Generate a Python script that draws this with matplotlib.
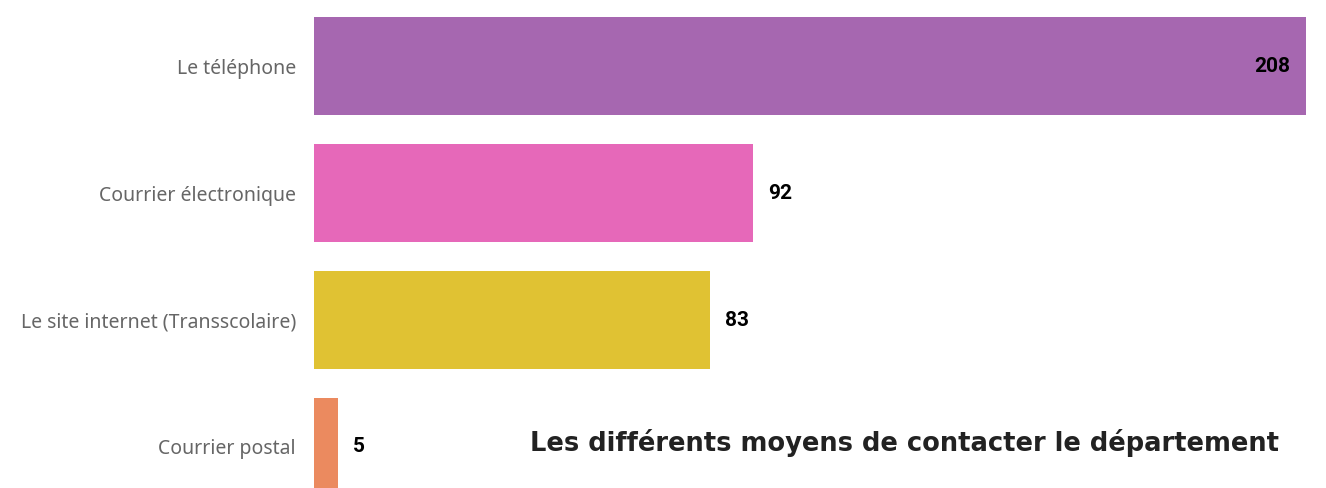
import numpy as np
import matplotlib
matplotlib.use('Agg')
import matplotlib.pyplot as plt

# data
categories = ['Le téléphone', 'Courrier électronique',
              'Le site internet (Transscolaire)', 'Courrier postal']
values = [208, 92, 83, 5]
colors = ['#A667B0', '#E668B9', '#E0C233', '#EB8A5F']
title = 'Les différents moyens de contacter le département'


def main():
    W, H = 1326, 488
    fig = plt.figure(figsize=(W / 100, H / 100), dpi=100)
    ax = fig.add_axes([314 / W, 0, 992 / W, 1])

    y = np.arange(len(categories))
    ax.barh(y, values, height=0.772, color=colors)
    ax.set_xlim(0, max(values))
    ax.set_ylim(3.323, -0.520)

    for yi, v in zip(y, values):
        if v == max(values):
            ax.annotate(str(v), (v, yi), xytext=(-16, 0), textcoords='offset pixels',
                        ha='right', va='center', fontsize=15, fontweight='bold',
                        family='Roboto', color='black')
        else:
            ax.annotate(str(v), (v, yi), xytext=(15, 0), textcoords='offset pixels',
                        ha='left', va='center', fontsize=15, fontweight='bold',
                        family='Roboto', color='black')

    ax.set_yticks(y)
    ax.set_yticklabels(categories, family='Noto Sans', fontsize=14, color='#666666')
    ax.tick_params(axis='y', length=0, pad=13)
    ax.set_xticks([])
    for s in ax.spines.values():
        s.set_visible(False)

    fig.text(905 / W, 1 - 443 / H, title, ha='center', va='center',
             fontsize=18.5, fontweight='bold', color='#222222', family='DejaVu Sans')

    fig.savefig('out.png', dpi=100)


if __name__ == '__main__': main()
